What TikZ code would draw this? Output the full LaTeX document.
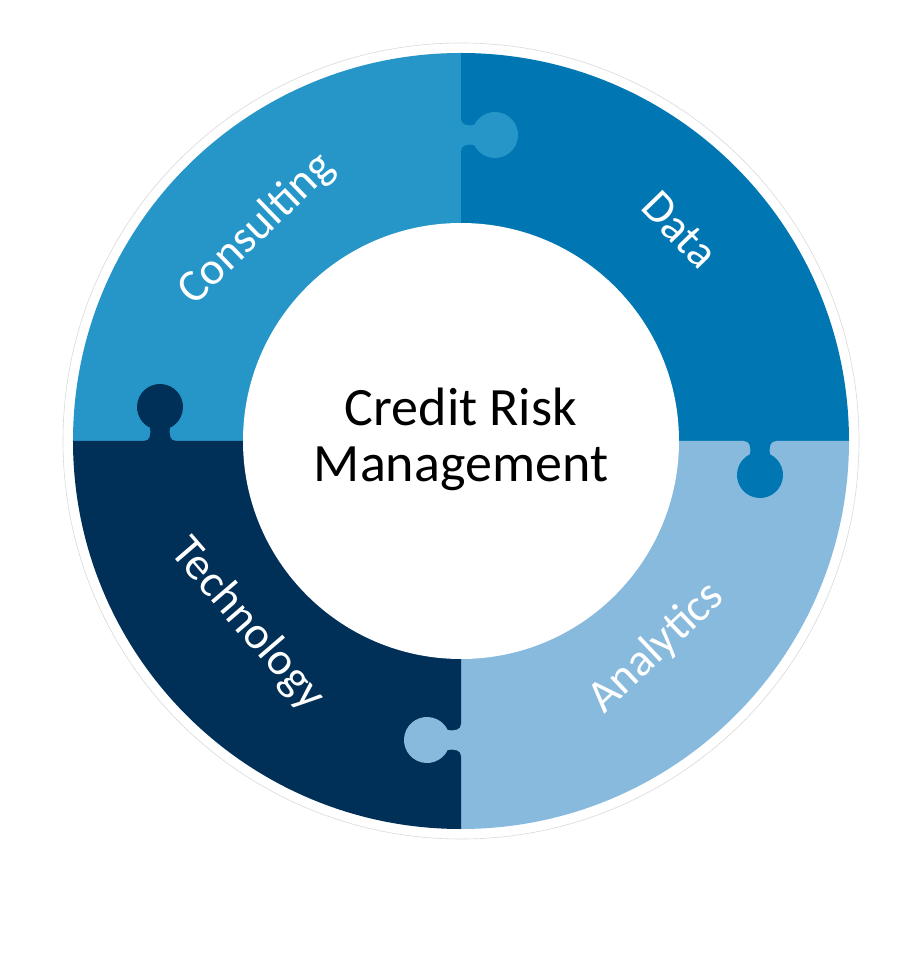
\documentclass[tikz,border=0pt]{standalone}
\usepackage{fontspec}
\setmainfont{Carlito}
\usepackage{tikz}
\usetikzlibrary{positioning,calc}
\definecolor{Consult}{HTML}{2696C8}
\definecolor{DataBlue}{HTML}{0077B3}
\definecolor{TechNavy}{HTML}{003057}
\definecolor{AnaSky}{HTML}{88BADD}
\tikzset{
    % white text sitting on the ring
    ringlabel/.style={
        text=white,
        inner sep=0pt,
        font=\fontsize{46}{50}\selectfont
    },
    centerlabel/.style={
        text=black,
        align=center,
        inner sep=0pt,
        font=\fontsize{54}{56}\selectfont
    },
    % puzzle tab, base on the cut line, pointing along local +y
    knob/.pic={
        \fill (-16,-2) -- (-16,0) .. controls (-10,0) and (-9,6) .. (-10,13.3)
            arc[start angle=244.2, end angle=-64.2, radius=23]
            .. controls (9,6) and (10,0) .. (16,0) -- (16,-2) -- cycle;
    }
}
\begin{document}
\begin{tikzpicture}[x=1pt,y=1pt]
    \useasboundingbox (-461,-519) rectangle (459,441);

    % faint outer ring
    \draw[gray!30, line width=0.6pt] (0,0) circle[radius=398];

    % Quarters
    \fill[Consult] (0,0) -- (90:388) arc[start angle=90, end angle=180, radius=388] -- cycle;
    \fill[DataBlue] (0,0) -- (0:388) arc[start angle=0, end angle=90, radius=388] -- cycle;
    \fill[AnaSky] (0,0) -- (270:388) arc[start angle=270, end angle=360, radius=388] -- cycle;
    \fill[TechNavy] (0,0) -- (180:388) arc[start angle=180, end angle=270, radius=388] -- cycle;

    % Tabs
    \pic[Consult, rotate=-90] at (0,306) {knob};
    \pic[TechNavy] at (-301,0) {knob};
    \pic[DataBlue, rotate=180] at (299,0) {knob};
    \pic[AnaSky, rotate=90] at (0,-299) {knob};

    % Hub
    \fill[white] (0,0) circle[radius=218];
    \node[centerlabel] (crm) at (0,2) {Credit Risk\\Management};

    % Labels
    \node[ringlabel, rotate=44] (consulting) at (134:294) {Consulting};
    \node[ringlabel, rotate=-46] (data) at (44:304) {Data};
    \node[ringlabel, rotate=43.4] (analytics) at (-46.6:285) {Analytics};
    \node[ringlabel, rotate=-49.3] (technology) at (220.7:282) {Technology};
\end{tikzpicture}
\end{document}
